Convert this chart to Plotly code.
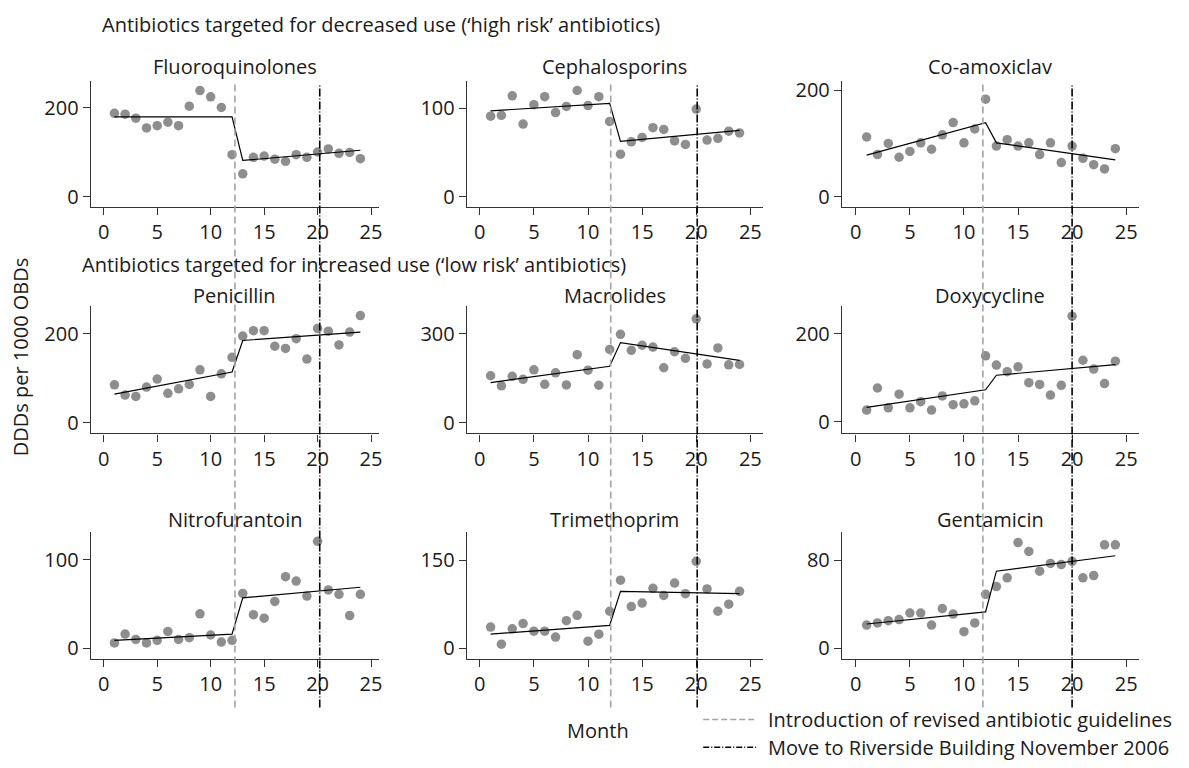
import plotly.graph_objects as go

W, H = 1189, 768

months = list(range(1, 25))
fit_months = [1, 12, 13, 24]

titles = ["Fluoroquinolones", "Cephalosporins", "Co-amoxiclav",
          "Penicillin", "Macrolides", "Doxycycline",
          "Nitrofurantoin", "Trimethoprim", "Gentamicin"]

fluoroquinolones = [188, 186, 177, 155, 160, 168, 160, 204, 239, 225, 201, 95,
                    52, 89, 92, 85, 80, 95, 89, 101, 108, 98, 100, 86]
fluoroquinolones_fit = [180, 180, 82, 105]

cephalosporins = [91, 92, 114, 82, 104, 113, 95, 102, 120, 103, 113, 85,
                  48, 62, 67, 78, 76, 63, 59, 99, 64, 66, 74, 72]
cephalosporins_fit = [97, 105.5, 62.5, 75]

coamoxiclav = [112, 79, 100, 74, 85, 101, 89, 116, 139, 101, 127, 183,
               95, 107, 95, 101, 79, 101, 64, 95, 72, 60, 52, 90]
coamoxiclav_fit = [78, 139, 101, 69]

penicillin = [85, 62, 59, 80, 98, 66, 76, 86, 119, 59, 110, 147,
              195, 207, 207, 172, 167, 189, 143, 212, 206, 175, 204, 241]
penicillin_fit = [64, 114, 185, 204]

macrolides = [158, 124, 156, 146, 178, 129, 168, 127, 229, 177, 126, 247,
              298, 244, 261, 255, 185, 239, 217, 350, 198, 252, 195, 196]
macrolides_fit = [135, 190, 270, 210]

doxycycline = [27, 77, 32, 63, 32, 46, 27, 59, 39, 41, 48, 150,
               129, 114, 125, 89, 85, 61, 83, 240, 140, 120, 87, 138]
doxycycline_fit = [33, 73, 106, 130]

nitrofurantoin = [6, 16, 10, 6, 9, 19, 10, 12, 39, 15, 7, 9,
                  62, 38, 34, 53, 81, 76, 59, 121, 66, 61, 37, 61]
nitrofurantoin_fit = [9, 16, 57, 69]

trimethoprim = [36, 7, 33, 42, 29, 29, 19, 47, 56, 12, 24, 63,
                116, 71, 77, 102, 90, 111, 93, 148, 101, 63, 75, 97]
trimethoprim_fit = [24, 39, 97, 93]

gentamicin = [21, 23, 25, 26, 32, 32, 21, 36, 31, 15, 23, 49,
              56, 64, 96, 88, 70, 77, 76, 79, 64, 66, 94, 94]
gentamicin_fit = [22, 33, 70, 84]

series = [fluoroquinolones, cephalosporins, coamoxiclav,
          penicillin, macrolides, doxycycline,
          nitrofurantoin, trimethoprim, gentamicin]
fits = [fluoroquinolones_fit, cephalosporins_fit, coamoxiclav_fit,
        penicillin_fit, macrolides_fit, doxycycline_fit,
        nitrofurantoin_fit, trimethoprim_fit, gentamicin_fit]

y_ticks = [[0, 200], [0, 100], [0, 200],
           [0, 200], [0, 300], [0, 200],
           [0, 100], [0, 150], [0, 80]]
y_ranges = [[-22.2, 260], [-11.5, 130.5], [-19.1, 216.7],
            [-24.5, 263], [-36.8, 394], [-26.3, 263.6],
            [-12.3, 131], [-18.5, 197.2], [-9.9, 105.2]]
x_ticks = [0, 5, 10, 15, 20, 25]

# event lines per column (month position)
guideline_month = [12.27, 12.1, 11.75]
move_month = [20.2, 20.09, 20.0]

headings = ["Antibiotics targeted for decreased use (\u2018high risk\u2019 antibiotics)",
            "Antibiotics targeted for increased use (\u2018low risk\u2019 antibiotics)"]
legend_labels = ["Introduction of revised antibiotic guidelines",
                 "Move to Riverside Building November 2006"]

# layout geometry (pixels)
col_px = [(91, 380), (468, 765), (844, 1142)]
col_zero = [(104, 10.72), (481, 10.85), (858, 10.84)]
row_px = [(77, 204), (304, 433), (533, 661)]

FONT = "Open Sans, Noto Sans, sans-serif"
TXT = "#1a1a1a"
AX = "#333333"
DOT = "#8e8e8e"
FS = 20

fig = go.Figure()
layout = dict(
    width=W, height=H, margin=dict(l=0, r=0, t=0, b=0),
    paper_bgcolor="white", plot_bgcolor="white", showlegend=False,
    font=dict(family=FONT, color=TXT, size=FS),
)
annotations = []
shapes = []

for i in range(9):
    r, c = divmod(i, 3)
    n = i + 1
    xa = "x" if n == 1 else f"x{n}"
    ya = "y" if n == 1 else f"y{n}"
    xl, xr = col_px[c]
    yt, yb = row_px[r]
    z, s = col_zero[c]
    xr0 = (xl - z) / s
    xr1 = (xr - z) / s
    layout[f"xaxis{'' if n == 1 else n}"] = dict(
        domain=[xl / W, xr / W], range=[xr0, xr1], anchor=ya,
        tickvals=x_ticks, ticks="outside", ticklen=7, tickwidth=1.2, tickcolor=AX,
        showline=True, linecolor=AX, linewidth=1.2, showgrid=False, zeroline=False,
        tickfont=dict(size=FS, color=TXT, family=FONT),
    )
    layout[f"yaxis{'' if n == 1 else n}"] = dict(
        domain=[1 - yb / H, 1 - yt / H], range=y_ranges[i], anchor=xa,
        tickvals=y_ticks[i], ticks="outside", ticklen=7, tickwidth=1.2, tickcolor=AX,
        showline=True, linecolor=AX, linewidth=1.2, showgrid=False, zeroline=False,
        tickfont=dict(size=FS, color=TXT, family=FONT),
    )
    fig.add_trace(go.Scatter(
        x=months, y=series[i], mode="markers", xaxis=xa, yaxis=ya,
        marker=dict(size=9.5, color=DOT, line=dict(width=0)),
    ))
    fig.add_trace(go.Scatter(
        x=fit_months, y=fits[i], mode="lines", xaxis=xa, yaxis=ya,
        line=dict(color="black", width=1.2),
    ))
    title_off = [15, 10, 13][r]
    annotations.append(dict(
        text=titles[i], xref="paper", yref="paper",
        x=(xl + xr) / 2 / W, y=1 - (yt - title_off) / H,
        xanchor="center", yanchor="middle", showarrow=False,
        font=dict(size=FS, color=TXT, family=FONT),
    ))

# vertical event lines spanning each column
for c in range(3):
    xa = ["x", "x2", "x3"][c]
    shapes.append(dict(type="line", xref=xa, yref="paper",
                       x0=guideline_month[c], x1=guideline_month[c],
                       y0=1 - 710 / H, y1=1 - 77 / H,
                       line=dict(color="#a3a3a3", width=1.6, dash="7px,4px")))
    shapes.append(dict(type="line", xref=xa, yref="paper",
                       x0=move_month[c], x1=move_month[c],
                       y0=1 - 710 / H, y1=1 - 80 / H,
                       line=dict(color="black", width=1.6, dash="8px,2px,1px,2px")))

# section headings
annotations.append(dict(text=headings[0], xref="paper", yref="paper",
                        x=100 / W, y=1 - 20 / H, xanchor="left", yanchor="middle",
                        showarrow=False, font=dict(size=FS, color=TXT, family=FONT)))
annotations.append(dict(text=headings[1], xref="paper", yref="paper",
                        x=80 / W, y=1 - 262 / H, xanchor="left", yanchor="middle",
                        showarrow=False, font=dict(size=FS, color=TXT, family=FONT)))

# y title
annotations.append(dict(text="DDDs per 1000 OBDs", xref="paper", yref="paper",
                        x=20 / W, y=1 - 355 / H, xanchor="center", yanchor="middle",
                        textangle=-90, showarrow=False,
                        font=dict(size=FS, color=TXT, family=FONT)))
# x title
annotations.append(dict(text="Month", xref="paper", yref="paper",
                        x=600 / W, y=1 - 733 / H, xanchor="center", yanchor="middle",
                        showarrow=False, font=dict(size=FS, color=TXT, family=FONT)))

# legend
leg_y = [722, 750]
leg_style = [dict(color="#a3a3a3", width=1.6, dash="6px,3px"),
             dict(color="black", width=1.6, dash="6px,2px,1px,2px")]
for k in range(2):
    shapes.append(dict(type="line", xref="paper", yref="paper",
                       x0=705 / W, x1=758 / W, y0=1 - leg_y[k] / H, y1=1 - leg_y[k] / H,
                       line=leg_style[k]))
    annotations.append(dict(text=legend_labels[k], xref="paper", yref="paper",
                            x=768 / W, y=1 - leg_y[k] / H, xanchor="left", yanchor="middle",
                            showarrow=False, font=dict(size=FS, color=TXT, family=FONT)))

layout["annotations"] = annotations
layout["shapes"] = shapes
fig.update_layout(**layout)
fig.write_html(
    "out.html",
    config={"displayModeBar": False},
    post_script="document.body.style.margin='0';document.body.style.overflow='hidden';",
)
